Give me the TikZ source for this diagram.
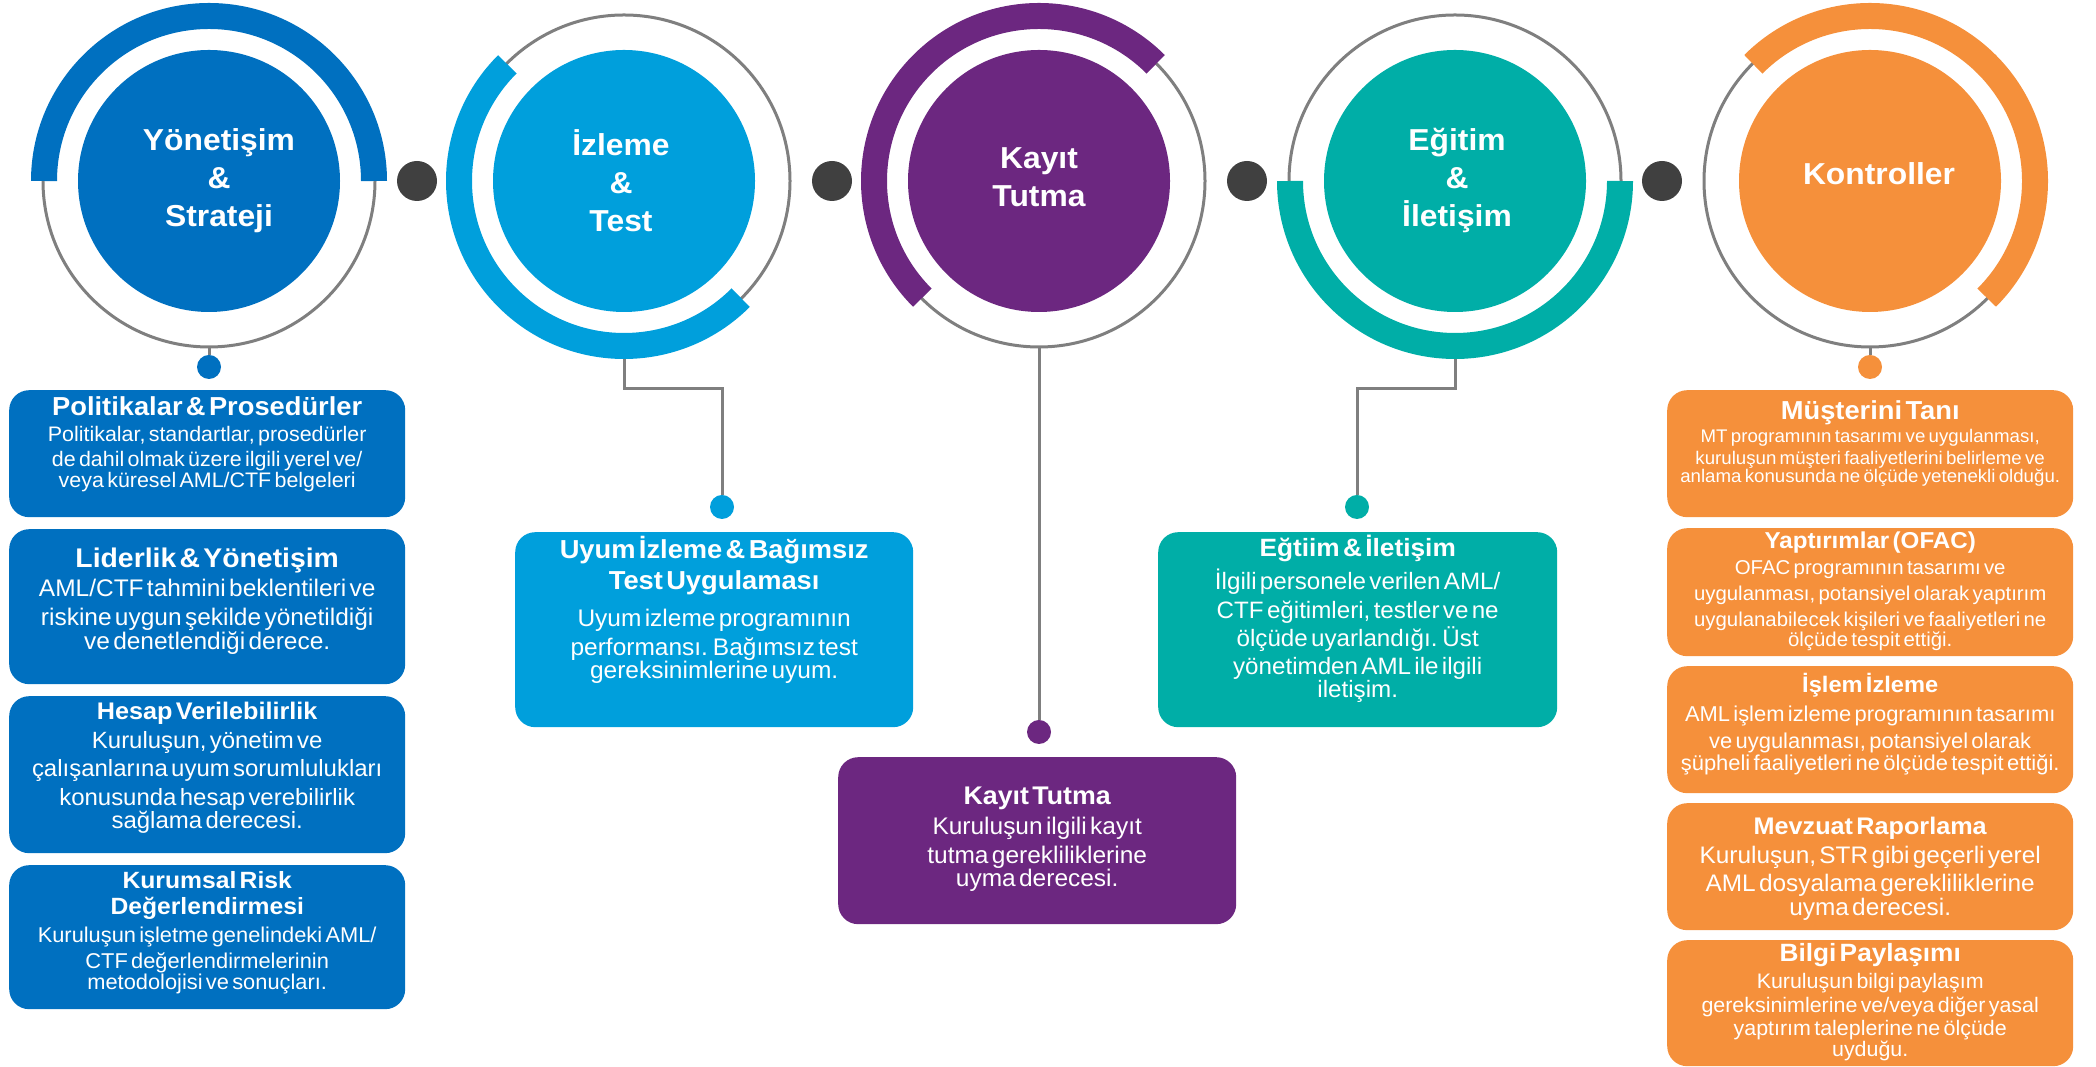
\documentclass[tikz,border=0pt]{standalone}
\usepackage{fontspec}
\setmainfont{Liberation Sans}[FakeStretch=1.02,BoldFeatures={FakeStretch=1.05}]
\usepackage{tikz}
\definecolor{govblue}{HTML}{0070C0}
\definecolor{testblue}{HTML}{009FDC}
\definecolor{recpurple}{HTML}{6C2780}
\definecolor{trnteal}{HTML}{00AEA7}
\definecolor{ctlorange}{HTML}{F5903B}
\definecolor{ringgray}{HTML}{7F7F7F}
\definecolor{dotgray}{HTML}{404040}
\newcommand{\fnt}[2]{\fontsize{#1pt}{#2pt}\selectfont}

\begin{document}
\begin{tikzpicture}[x=1pt,y=1pt,
  ring/.style={circle,draw=ringgray,line width=3pt,minimum size=332pt,inner sep=0pt},
  band/.style={line width=26pt},
  disc/.style={circle,minimum size=262pt,inner sep=0pt},
  disctxt/.style={text=white,font=\bfseries\fnt{30.3}{38},align=center,inner sep=0pt},
  link/.style={draw=ringgray,line width=3pt},
  knob/.style={circle,fill=dotgray,minimum size=40pt,inner sep=0pt},
  pin/.style={circle,minimum size=24pt,inner sep=0pt},
  panel/.style={rounded corners=20pt,anchor=north west,inner sep=0pt},
  txt/.style={anchor=base,text=white,align=center,inner sep=0pt}]
%\draw[red] (0,0) rectangle (2096,1067);
\useasboundingbox (0,0) rectangle (2096,1067);

% rings
\node[ring] (r1) at (209,886) {};
\node[ring] (r2) at (624,886) {};
\node[ring] (r3) at (1039,886) {};
\node[ring] (r4) at (1455,886) {};
\node[ring] (r5) at (1870,886) {};

% small dots and links
\node[pin,fill=govblue] (d1) at (209,700) {};
\node[pin,fill=testblue] (d2) at (722,560) {};
\node[pin,fill=recpurple] (d3) at (1039,335) {};
\node[pin,fill=trnteal] (d4) at (1357,560) {};
\node[pin,fill=ctlorange] (d5) at (1870,700) {};
\draw[link] (r1.south) -- (d1);
\draw[link] (r2.south) -- ++(0,-40) -| (d2);
\draw[link] (r3.south) -- (d3);
\draw[link] (r4.south) -- ++(0,-40) -| (d4);
\draw[link] (r5.south) -- (d5);

% thick arcs
\draw[band,govblue] ([shift={(0:165pt)}]r1.center) arc[start angle=0,end angle=180,radius=165pt];
\draw[band,testblue] ([shift={(135:165pt)}]r2.center) arc[start angle=135,end angle=315,radius=165pt];
\draw[band,recpurple] ([shift={(45:165pt)}]r3.center) arc[start angle=45,end angle=225,radius=165pt];
\draw[band,trnteal] ([shift={(180:165pt)}]r4.center) arc[start angle=180,end angle=360,radius=165pt];
\draw[band,ctlorange] ([shift={(-45:165pt)}]r5.center) arc[start angle=-45,end angle=135,radius=165pt];

% discs
\node[disc,fill=govblue] (c1) at (r1) {};
\node[disc,fill=testblue] (c2) at (r2) {};
\node[disc,fill=recpurple] (c3) at (r3) {};
\node[disc,fill=trnteal] (c4) at (r4) {};
\node[disc,fill=ctlorange] (c5) at (r5) {};
\node[disctxt] (c1t) at ([xshift=10pt]c1) {Yönetişim\\\&\\Strateji};
\node[disctxt] (c2t) at ([xshift=-3pt]c2) {İzleme\\\&\\Test};
\node[disctxt] (c3t) at ([yshift=4pt]c3) {Kayıt\\Tutma};
\node[disctxt] (c4t) at ([xshift=2pt]c4) {Eğitim\\\&\\İletişim};
\node[disctxt] (c5t) at ([xshift=9pt,yshift=7pt]c5) {Kontroller};

% dark dots
\node[knob] (k1) at (417,886) {};
\node[knob] (k2) at (832,886) {};
\node[knob] (k3) at (1247,886) {};
\node[knob] (k4) at (1662,886) {};

% left column
\node[panel,fill=govblue,minimum width=396pt,minimum height=127pt] (p1) at (9,677) {};
\node[txt,text width=392pt] (p1t) at ([yshift=-26pt]p1.north)
  {{\bfseries\fnt{26}{30}Politikalar \& Prosedürler\par}
   \fnt{21}{25.5}Politikalar, standartlar, prosedürler\\
   de dahil olmak üzere ilgili yerel ve/\\
   veya küresel AML/CTF belgeleri};

\node[panel,fill=govblue,minimum width=396pt,minimum height=155pt] (p2) at (9,538) {};
\node[txt,text width=392pt] (p2t) at ([yshift=-39pt]p2.north)
  {{\bfseries\fnt{27}{31}Liderlik \& Yönetişim\par}
   \fnt{24}{28.7}AML/CTF tahmini beklentileri ve\\
   riskine uygun şekilde yönetildiği\\
   ve denetlendiği derece.};

\node[panel,fill=govblue,minimum width=396pt,minimum height=157pt] (p3) at (9,371) {};
\node[txt,text width=392pt] (p3t) at ([yshift=-24pt]p3.north)
  {{\bfseries\fnt{24}{28}Hesap Verilebilirlik\par}
   \fnt{23.5}{28.5}Kuruluşun, yönetim ve\\
   çalışanlarına uyum sorumlulukları\\
   konusunda hesap verebilirlik\\
   sağlama derecesi.};

\node[panel,fill=govblue,minimum width=396pt,minimum height=144pt] (p4) at (9,202) {};
\node[txt,text width=392pt] (p4t) at ([yshift=-24pt]p4.north)
  {{\bfseries\fnt{23.5}{26}Kurumsal Risk\\Değerlendirmesi\par}\vspace{2.5pt}
   \fnt{21.4}{25.5}Kuruluşun işletme genelindeki AML/\\
   CTF değerlendirmelerinin\\
   metodolojisi ve sonuçları.};

% middle boxes
\node[panel,fill=testblue,minimum width=398pt,minimum height=195pt] (pu) at (515,535) {};
\node[txt,text width=392pt] (put) at ([yshift=-27pt]pu.north)
  {{\bfseries\fnt{26}{31}Uyum İzleme \& Bağımsız\\Test Uygulaması\par}\vspace{8.5pt}
   \fnt{24}{28.3}Uyum izleme programının\\
   performansı. Bağımsız test\\
   gereksinimlerine uyum.};

\node[panel,fill=recpurple,minimum width=398pt,minimum height=167pt] (pk) at (838,310) {};
\node[txt,text width=392pt] (pkt) at ([yshift=-48pt]pk.north)
  {{\bfseries\fnt{25.5}{30}Kayıt Tutma\par}\vspace{1.5pt}
   \fnt{24}{28.5}Kuruluşun ilgili kayıt\\
   tutma gerekliliklerine\\
   uyma derecesi.};

\node[panel,fill=trnteal,minimum width=399pt,minimum height=195pt] (pe) at (1158,535) {};
\node[txt,text width=392pt] (pet) at ([yshift=-25pt]pe.north)
  {{\bfseries\fnt{25}{30}Eğtiim \& İletişim\par}\vspace{4.5pt}
   \fnt{23.7}{28.3}İlgili personele verilen AML/\\
   CTF eğitimleri, testler ve ne\\
   ölçüde uyarlandığı. Üst\\
   yönetimden AML ile ilgili\\
   iletişim.};

% right column
\node[panel,fill=ctlorange,minimum width=406pt,minimum height=127pt] (q1) at (1667,677) {};
\node[txt,text width=402pt] (q1t) at ([yshift=-30pt]q1.north)
  {{\bfseries\fnt{26}{30}Müşterini Tanı\par}\vspace{1.5pt}
   \fnt{18.3}{21.5}MT programının tasarımı ve uygulanması,\\
   kuruluşun müşteri faaliyetlerini belirleme ve\\
   anlama konusunda ne ölçüde yetenekli olduğu.};

\node[panel,fill=ctlorange,minimum width=406pt,minimum height=128pt] (q2) at (1667,539) {};
\node[txt,text width=402pt] (q2t) at ([yshift=-21pt]q2.north)
  {{\bfseries\fnt{23}{27}Yaptırımlar (OFAC)\par}
   \fnt{20}{25.7}OFAC programının tasarımı ve\\
   uygulanması, potansiyel olarak yaptırım\\
   uygulanabilecek kişileri ve faaliyetleri ne\\
   ölçüde tespit ettiği.};

\node[panel,fill=ctlorange,minimum width=406pt,minimum height=127pt] (q3) at (1667,401) {};
\node[txt,text width=402pt] (q3t) at ([yshift=-27pt]q3.north)
  {{\bfseries\fnt{22.5}{27}İşlem İzleme\par}\vspace{2pt}
   \fnt{21.5}{27}AML işlem izleme programının tasarımı\\
   ve uygulanması, potansiyel olarak\\
   şüpheli faaliyetleri ne ölçüde tespit ettiği.};

\node[panel,fill=ctlorange,minimum width=406pt,minimum height=127pt] (q4) at (1667,264) {};
\node[txt,text width=402pt] (q4t) at ([yshift=-32pt]q4.north)
  {{\bfseries\fnt{24}{28}Mevzuat Raporlama\par}
   \fnt{23.9}{28.5}Kuruluşun, STR gibi geçerli yerel\\
   AML dosyalama gerekliliklerine\\
   uyma derecesi.};

\node[panel,fill=ctlorange,minimum width=406pt,minimum height=126pt] (q5) at (1667,127) {};
\node[txt,text width=402pt] (q5t) at ([yshift=-22pt]q5.north)
  {{\bfseries\fnt{25}{29}Bilgi Paylaşımı\par}\vspace{3.5pt}
   \fnt{21}{23.3}Kuruluşun bilgi paylaşım\\
   gereksinimlerine ve/veya diğer yasal\\
   yaptırım taleplerine ne ölçüde\\
   uyduğu.};
\end{tikzpicture}
\end{document}
